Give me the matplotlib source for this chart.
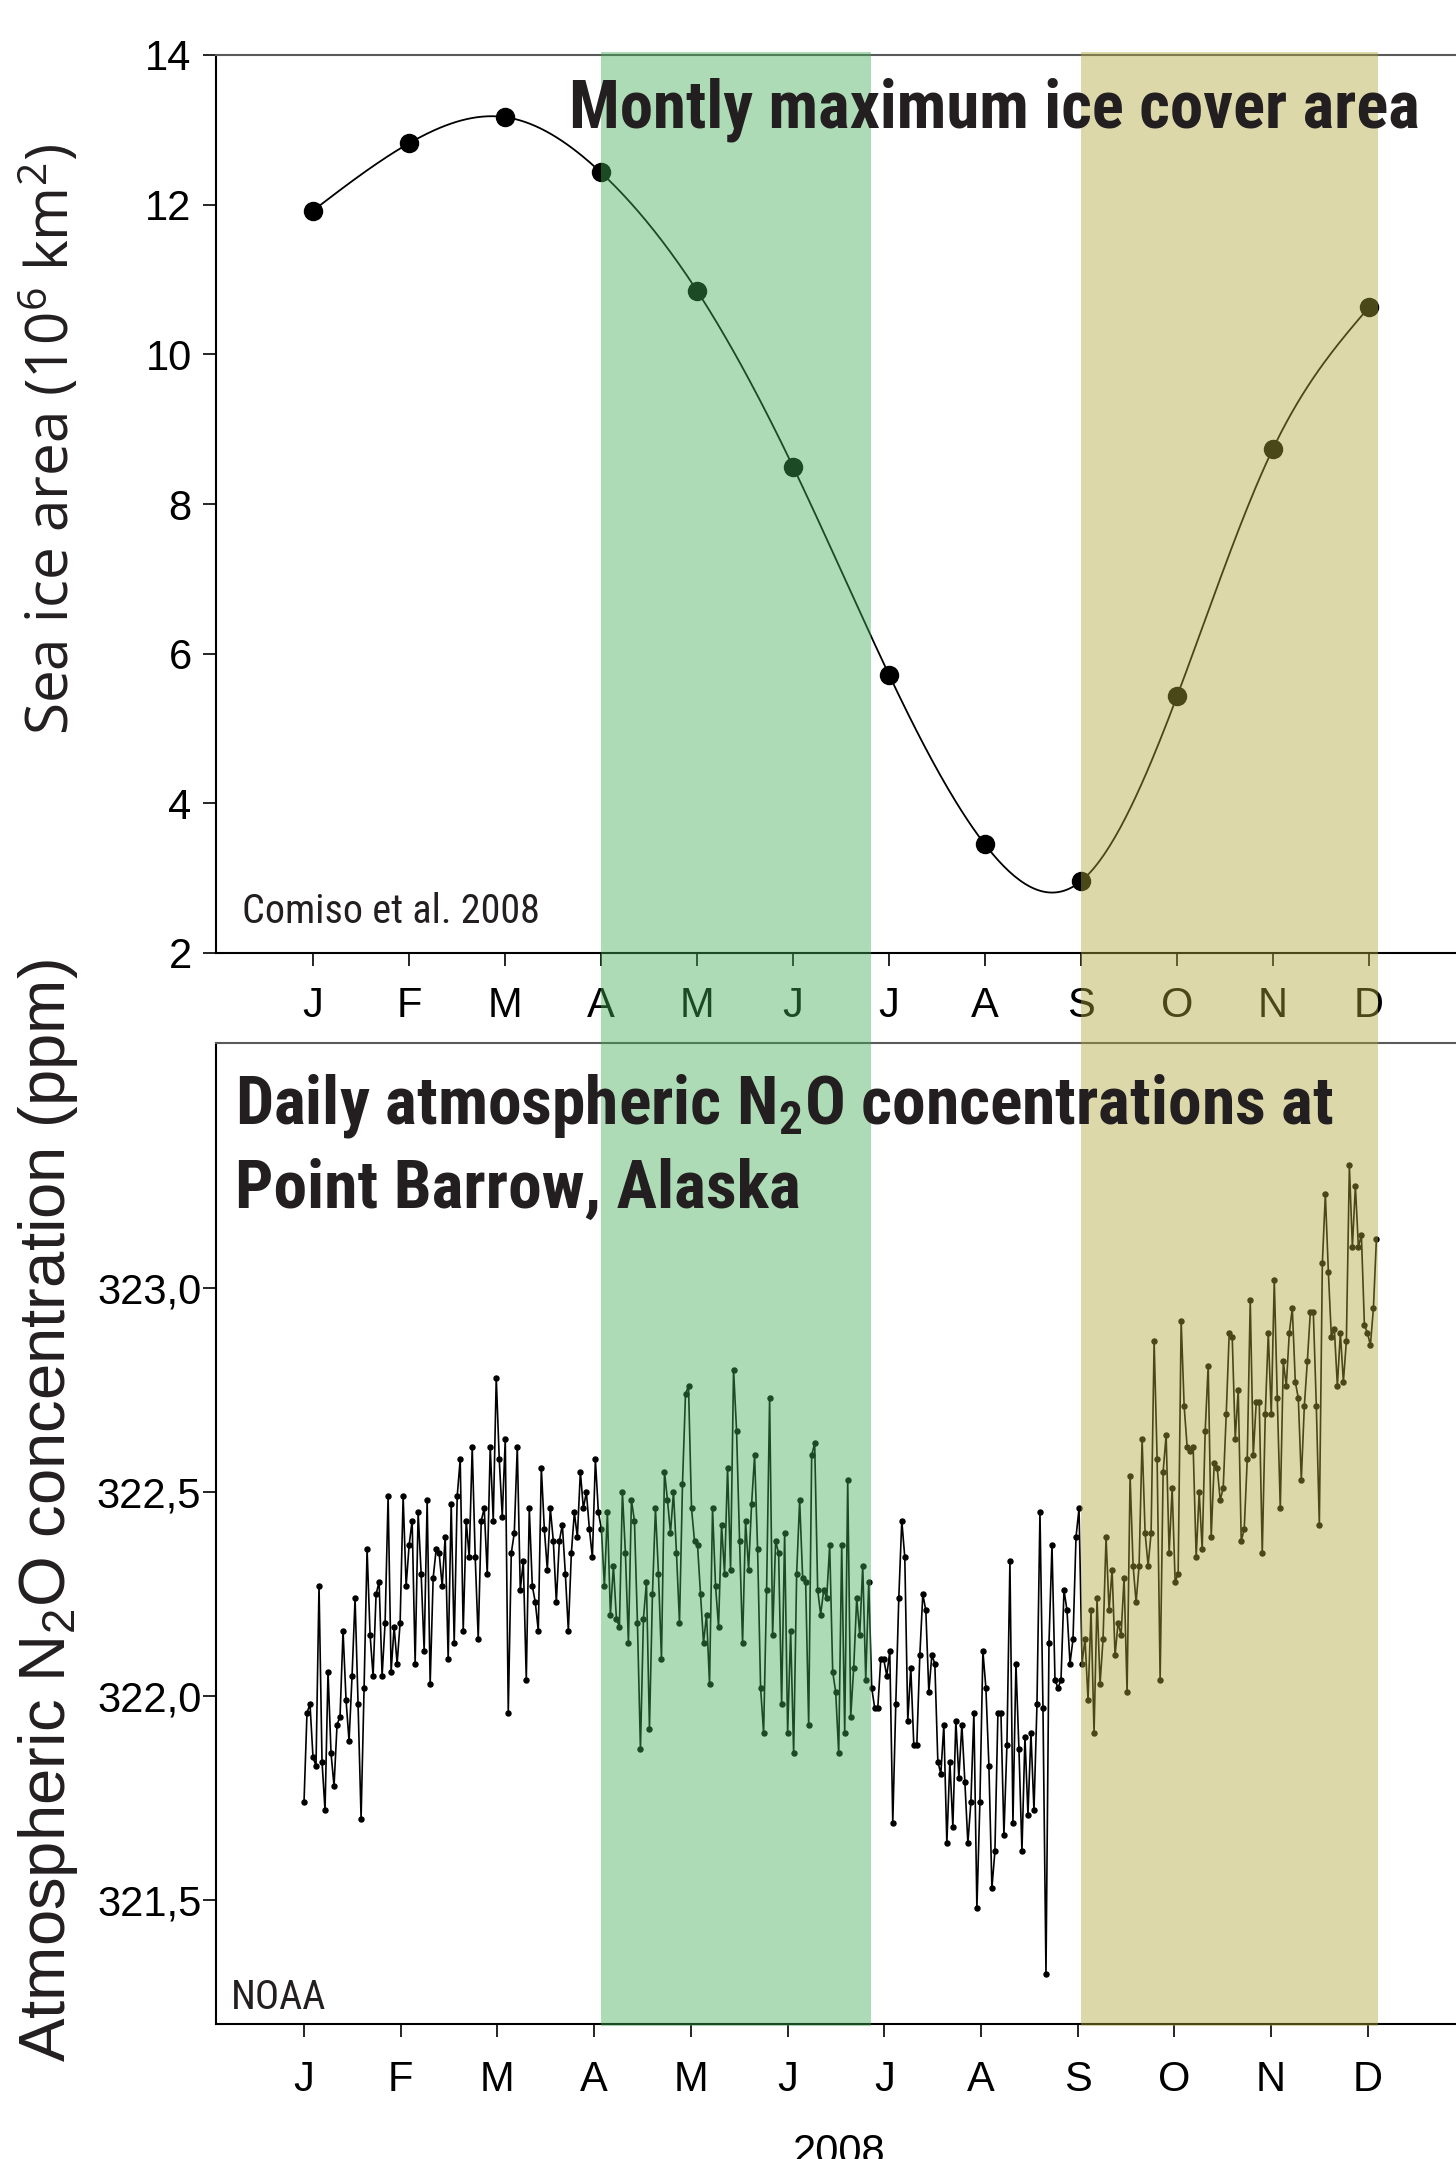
import numpy as np
import matplotlib
matplotlib.use("Agg")
import matplotlib.pyplot as plt
from matplotlib import font_manager as fm

# --- data -------------------------------------------------------------
months = ["J", "F", "M", "A", "M", "J", "J", "A", "S", "O", "N", "D"]
month_num = np.arange(1, 13)

# monthly maximum sea ice area (10^6 km2), Comiso et al. 2008
ice_area = [11.92, 12.82, 13.17, 12.43, 10.85, 8.50, 5.72, 3.45, 2.96, 5.43, 8.74, 10.63]

# daily N2O at Point Barrow (ppm)
n2o_jan_mar = [
    321.74, 321.96, 321.98, 321.85, 321.83, 322.27, 321.84, 321.72, 322.06, 321.86,
    321.78, 321.93, 321.95, 322.16, 321.99, 321.89, 322.05, 322.24, 321.98, 321.70,
    322.02, 322.36, 322.15, 322.05, 322.25, 322.28, 322.05, 322.18, 322.49, 322.06,
    322.17, 322.08, 322.18, 322.49, 322.27, 322.37, 322.43, 322.08, 322.45, 322.30,
    322.11, 322.48, 322.03, 322.29, 322.36, 322.35, 322.27, 322.39, 322.09, 322.47,
    322.13, 322.49, 322.58, 322.16, 322.43, 322.34, 322.61, 322.34, 322.14, 322.43,
    322.46, 322.30, 322.61, 322.43, 322.78, 322.58, 322.44, 322.63, 321.96, 322.35,
    322.40, 322.61, 322.26,
]
n2o_mar_jun = [
    322.33, 322.04, 322.46, 322.27, 322.23, 322.16, 322.56, 322.41, 322.31, 322.46,
    322.38, 322.23, 322.38, 322.42, 322.30, 322.16, 322.35, 322.45, 322.39, 322.55,
    322.46, 322.50, 322.41, 322.34, 322.58, 322.45, 322.41, 322.27, 322.45, 322.20,
    322.32, 322.19, 322.17, 322.50, 322.35, 322.13, 322.48, 322.43, 322.18, 321.87,
    322.19, 322.28, 321.92, 322.25, 322.46, 322.30, 322.09, 322.55, 322.48, 322.40,
    322.50, 322.35, 322.18, 322.52, 322.74, 322.76, 322.46, 322.38, 322.37, 322.25,
    322.13, 322.20, 322.03, 322.46, 322.27, 322.17, 322.42, 322.30, 322.56, 322.31,
    322.80, 322.65, 322.38, 322.13, 322.43, 322.31, 322.47, 322.59, 322.36, 322.02,
    321.91, 322.26, 322.73, 322.15, 322.38, 322.35, 321.98, 322.40, 321.91, 322.16,
    321.86, 322.30, 322.48, 322.29, 322.28, 321.93, 322.59,
]
n2o_jun_sep = [
    322.62, 322.26, 322.20, 322.26, 322.24, 322.37, 322.06, 322.01, 321.86, 322.37,
    321.91, 322.53, 321.95, 322.07, 322.24, 322.15, 322.32, 322.04, 322.28, 322.02,
    321.97, 321.97, 322.09, 322.09, 322.05, 322.11, 321.69, 321.98, 322.24, 322.43,
    322.34, 321.94, 322.07, 321.88, 321.88, 322.10, 322.25, 322.21, 322.01, 322.10,
    322.08, 321.84, 321.81, 321.93, 321.64, 321.84, 321.68, 321.94, 321.80, 321.93,
    321.79, 321.64, 321.74, 321.96, 321.48, 321.74, 322.11, 322.02, 321.83, 321.53,
    321.62, 321.96, 321.96, 321.66, 321.88, 322.33, 321.69, 322.08, 321.87, 321.62,
    321.90, 321.71, 321.91, 321.72, 321.98, 322.45, 321.97, 321.32, 322.13, 322.37,
    322.04, 322.02, 322.04, 322.26, 322.21, 322.08, 322.14, 322.39, 322.46, 322.08,
    322.14, 321.99, 322.21, 321.91, 322.24,
]
n2o_sep_dec = [
    322.03, 322.14, 322.39, 322.21, 322.31, 322.10, 322.18, 322.15, 322.29, 322.01,
    322.54, 322.32, 322.23, 322.32, 322.63, 322.40, 322.32, 322.40, 322.87, 322.58,
    322.04, 322.55, 322.64, 322.35, 322.51, 322.28, 322.30, 322.92, 322.71, 322.61,
    322.60, 322.61, 322.34, 322.50, 322.36, 322.65, 322.81, 322.39, 322.57, 322.56,
    322.48, 322.51, 322.69, 322.89, 322.88, 322.63, 322.75, 322.38, 322.41, 322.58,
    322.97, 322.59, 322.72, 322.72, 322.35, 322.69, 322.89, 322.69, 323.02, 322.73,
    322.46, 322.82, 322.76, 322.89, 322.95, 322.77, 322.73, 322.53, 322.71, 322.82,
    322.94, 322.94, 322.71, 322.42, 323.06, 323.23, 323.04, 322.88, 322.90, 322.76,
    322.89, 322.77, 322.87, 323.30, 323.10, 323.25, 323.10, 323.13, 322.91, 322.89,
    322.86, 322.95, 323.12,
]
n2o = np.array(n2o_jan_mar + n2o_mar_jun + n2o_jun_sep + n2o_sep_dec)
n2o_start, n2o_end = 1.0, 12.09      # 1 Jan .. ~3 Dec, in month units

n2o_ticks = [321.5, 322.0, 322.5, 323.0]
n2o_ticklabels = ["321,5", "322,0", "322,5", "323,0"]

spring = (4.0, 6.81)   # green band
autumn = (9.0, 12.09)  # olive band


def natural_spline(x, y, xs):
    x = np.asarray(x, float)
    y = np.asarray(y, float)
    n = len(x)
    h = np.diff(x)
    A = np.zeros((n, n))
    r = np.zeros(n)
    A[0, 0] = A[-1, -1] = 1
    for i in range(1, n - 1):
        A[i, i - 1] = h[i - 1]
        A[i, i] = 2 * (h[i - 1] + h[i])
        A[i, i + 1] = h[i]
        r[i] = 3 * ((y[i + 1] - y[i]) / h[i] - (y[i] - y[i - 1]) / h[i - 1])
    c = np.linalg.solve(A, r)
    b = (y[1:] - y[:-1]) / h - h * (2 * c[:-1] + c[1:]) / 3
    d = (c[1:] - c[:-1]) / (3 * h)
    k = np.clip(np.searchsorted(x, xs) - 1, 0, n - 2)
    dx = xs - x[k]
    return y[k] + b[k] * dx + c[k] * dx ** 2 + d[k] * dx ** 3


def _weight(f):
    w = f.weight
    if isinstance(w, str):
        w = fm.weight_dict.get(w, 400)
    return w


def condensed_font(bold):
    # look for any narrow / condensed face that is installed
    pref = ["Liberation Sans Narrow", "Arial Narrow", "Roboto Condensed",
            "Noto Sans", "DejaVu Sans", "Open Sans"]
    best, best_key = None, None
    for f in fm.fontManager.ttflist:
        if f.style != "normal":
            continue
        tag = (f.name + " " + f.fname).lower()
        if not (f.stretch in ("condensed", "semi-condensed")
                or "narrow" in tag or "condensed" in tag):
            continue
        if "extra" in tag or "ultra" in tag or "semi" in tag:
            continue
        rank = next((i for i, p in enumerate(pref) if f.name.startswith(p)), 9)
        key = (abs(_weight(f) - (700 if bold else 400)), rank)
        if best_key is None or key < best_key:
            best, best_key = f, key
    if best is None:
        return fm.FontProperties(family="Liberation Sans",
                                 weight="bold" if bold else "normal")
    return fm.FontProperties(fname=best.fname)


plt.rcParams["font.family"] = ["Liberation Sans", "DejaVu Sans"]
TXT = "#231f20"
cond_bold = condensed_font(True)
cond_reg = condensed_font(False)

W, H = 1456, 2159
fig = plt.figure(figsize=(W / 100, H / 100), dpi=100)
renderer = fig.canvas.get_renderer()


def fx(px):
    return px / W


def fy(py):
    return 1 - py / H


def fit_width(t, target_px):
    w = t.get_window_extent(renderer).width
    t.set_fontsize(t.get_fontsize() * target_px / w)
    return t.get_fontsize()


ax1 = fig.add_axes([fx(216), fy(953), 1 - fx(216), (953 - 55) / H])
ax2 = fig.add_axes([fx(216), fy(2024), 1 - fx(216), (2024 - 1043) / H])

# top panel: sea ice
xs = np.linspace(1, 12, 400)
ax1.plot(xs, natural_spline(month_num, ice_area, xs), color="k", lw=1.3)
ax1.plot(month_num, ice_area, "o", color="k", ms=13)
ax1.set_xlim(-0.01, 12.906)
ax1.set_ylim(2, 14)
ax1.set_yticks(np.arange(2, 15, 2))
ax1.set_xticks(month_num)
ax1.set_xticklabels(months)

# bottom panel: N2O
days = np.linspace(n2o_start, n2o_end, len(n2o))
ax2.plot(days, n2o, "-o", color="k", lw=1.2, ms=3.6)
ax2.set_xlim(0.09, 12.913)
ax2.set_ylim(321.197, 323.6)
ax2.set_yticks(n2o_ticks)
ax2.set_yticklabels(n2o_ticklabels)
ax2.set_xticks(month_num)
ax2.set_xticklabels(months)

for ax in (ax1, ax2):
    ax.spines["right"].set_visible(False)
    ax.spines["top"].set_color("#5a5a5a")
    for s in ("left", "bottom", "top"):
        ax.spines[s].set_linewidth(1.5)
    ax.tick_params(axis="both", direction="out", length=9.5, width=1.2,
                   labelsize=30, colors="k")
ax1.tick_params(axis="y", pad=8)
ax1.tick_params(axis="x", pad=14)
ax2.tick_params(axis="y", pad=1)
ax2.tick_params(axis="x", pad=16.5)

# shaded seasons, drawn over both panels
ov = fig.add_axes([fx(216), fy(2026), 1 - fx(216), (2026 - 52) / H])
ov.set_xlim(ax1.get_xlim())
ov.set_ylim(0, 1)
ov.axis("off")
ov.axvspan(*spring, color="#41ac54", alpha=0.43, lw=0)
ov.axvspan(*autumn, color="#aea53b", alpha=0.43, lw=0)

# texts
t = fig.text(fx(569), fy(127), "Montly maximum ice cover area",
             fontproperties=cond_bold, fontsize=49.5, color=TXT, va="baseline")
fit_width(t, 851)
t = fig.text(fx(235), fy(1124), r"Daily atmospheric N$\mathregular{_2}$O concentrations at",
             fontproperties=cond_bold, fontsize=49.5, color=TXT, va="baseline")
size = fit_width(t, 1098)
fig.text(fx(235), fy(1208), "Point Barrow, Alaska", fontproperties=cond_bold,
         fontsize=size, color=TXT, va="baseline")
t = fig.text(fx(242), fy(923), "Comiso et al. 2008", fontproperties=cond_reg,
             fontsize=30.5, color=TXT, va="baseline")
size = fit_width(t, 298)
fig.text(fx(231), fy(2009), "NOAA", fontproperties=cond_reg, fontsize=size,
         color=TXT, va="baseline")

fig.text(fx(51), fy(439), r"Sea ice area (10$\mathregular{^6}$ km$\mathregular{^2}$)",
         family=["Open Sans", "DejaVu Sans"], fontsize=42, color=TXT,
         rotation=90, ha="center", va="center")
fig.text(fx(48), fy(1511), r"Atmospheric N$\mathregular{_2}$O concentration (ppm)",
         fontsize=47, color=TXT, rotation=90, ha="center", va="center")
fig.text(fx(839), fy(2133), "2008", fontsize=30, color="k", ha="center", va="top")

fig.savefig("out.png", dpi=100)
